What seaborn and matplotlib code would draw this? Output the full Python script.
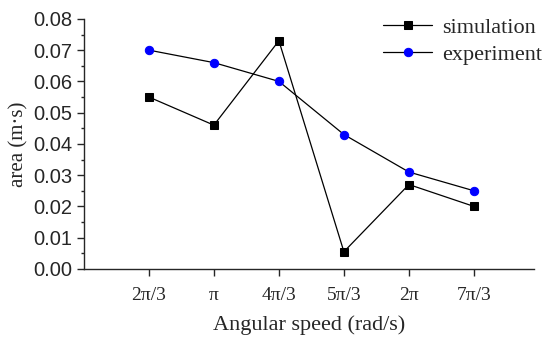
import pandas as pd
import numpy as np
import seaborn as sns
import matplotlib.pyplot as plt

speeds = ['2\u03c0/3', '\u03c0', '4\u03c0/3', '5\u03c0/3', '2\u03c0', '7\u03c0/3']
simulation = [0.055, 0.046, 0.073, 0.0055, 0.027, 0.020]
experiment = [0.070, 0.066, 0.060, 0.043, 0.031, 0.025]

df = pd.DataFrame({'pos': range(len(speeds)), 'simulation': simulation, 'experiment': experiment})

sns.set_style('ticks')
plt.rcParams['font.family'] = ['Liberation Serif', 'DejaVu Serif']

fig = plt.figure(figsize=(5.48, 3.37), dpi=100)
ax = fig.add_axes([0.153, 0.202, 0.821, 0.742])

sns.lineplot(data=df, x='pos', y='simulation', ax=ax, color='black', lw=0.9,
             marker='s', markersize=5.5, markeredgecolor='black', label='simulation')
sns.lineplot(data=df, x='pos', y='experiment', ax=ax, color='black', lw=0.9,
             marker='o', markersize=6, markerfacecolor='blue', markeredgecolor='blue',
             label='experiment')

ax.set_xlim(-1, 5.92)
ax.set_ylim(0, 0.08)
ax.set_xticks(range(len(speeds)))
ax.set_xticklabels(speeds, fontsize=14)
ax.set_yticks(np.arange(0, 0.081, 0.01))
ax.set_yticklabels([f'{v:.2f}' for v in np.arange(0, 0.081, 0.01)],
                   fontsize=14.5, family='Liberation Sans')
ax.set_yticks(np.arange(0.005, 0.08, 0.01), minor=True)
ax.tick_params(axis='both', which='major', length=5, width=1, direction='out', pad=3)
ax.tick_params(axis='x', which='major', pad=8)
ax.tick_params(axis='y', which='minor', length=2.5, width=1)
for s in ['left', 'bottom']:
    ax.spines[s].set_linewidth(1)
sns.despine(ax=ax)

ax.set_xlabel('Angular speed (rad/s)', fontsize=16, labelpad=8)
ax.set_ylabel('area (m\u00b7s)', fontsize=15, labelpad=4)

leg = ax.legend(loc='upper right', bbox_to_anchor=(1.063, 1.085), frameon=False,
                fontsize=16, handlelength=2.2, labelspacing=0.28, handletextpad=0.45)

fig.savefig('out.png', dpi=100)
